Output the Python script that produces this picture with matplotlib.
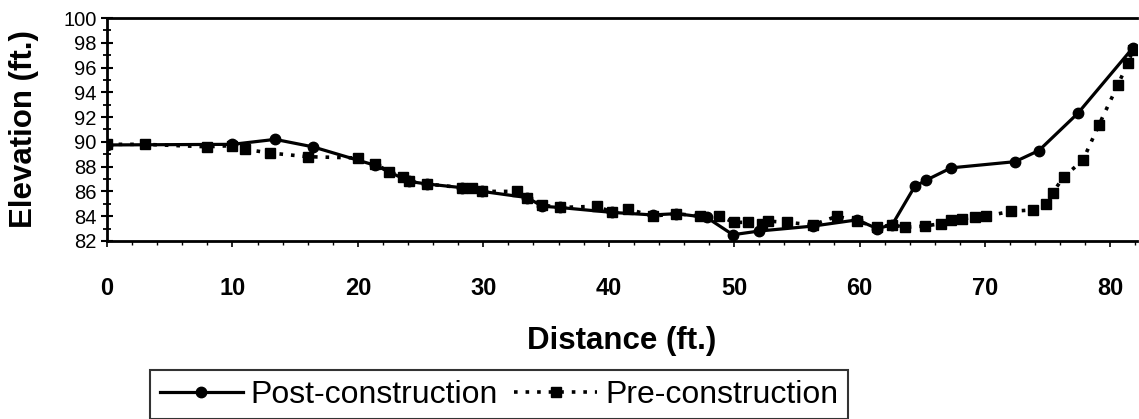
import matplotlib
matplotlib.use('Agg')
import matplotlib.pyplot as plt
from matplotlib.ticker import MultipleLocator

plt.rcParams['font.family'] = ['Liberation Sans', 'DejaVu Sans']

# post-construction survey (distance ft, elevation ft)
post_dist = [0, 10.0, 13.4, 16.4, 21.4, 24.1, 25.5, 28.3, 29.9, 33.5, 34.7, 36.1,
             40.3, 43.5, 45.4, 47.8, 49.9, 52.0, 56.3, 59.8, 61.4, 62.6, 64.4,
             65.3, 67.3, 72.4, 74.3, 77.4, 81.8]
post_elev = [89.75, 89.8, 90.2, 89.6, 88.1, 86.8, 86.6, 86.3, 86.0, 85.5, 84.8, 84.7,
             84.3, 84.1, 84.2, 83.9, 82.5, 82.8, 83.2, 83.7, 83.0, 83.3, 86.4,
             86.9, 87.9, 88.4, 89.3, 92.3, 97.6]

# pre-construction survey
pre_dist = [0, 3.0, 8.0, 10.0, 11.0, 13.0, 16.0, 20.0, 21.4, 22.5, 23.6, 24.1, 25.5,
            28.3, 29.1, 29.9, 32.7, 33.5, 34.7, 36.1, 39.1, 40.3, 41.5, 43.5, 45.4,
            47.3, 48.8, 50.0, 51.1, 52.2, 52.7, 54.2, 56.3, 58.2, 59.8, 61.4, 62.6,
            63.6, 65.2, 66.5, 67.3, 68.2, 69.2, 70.1, 72.1, 73.8, 74.9, 75.4, 76.3,
            77.8, 79.1, 80.6, 81.4, 81.8]
pre_elev = [89.8, 89.8, 89.6, 89.7, 89.4, 89.1, 88.8, 88.7, 88.2, 87.6, 87.2, 86.8, 86.6,
            86.3, 86.3, 86.0, 86.0, 85.5, 84.9, 84.7, 84.8, 84.3, 84.6, 84.0, 84.2,
            84.0, 84.0, 83.5, 83.5, 83.4, 83.6, 83.5, 83.3, 84.0, 83.6, 83.1, 83.3,
            83.1, 83.2, 83.4, 83.7, 83.8, 83.9, 84.0, 84.4, 84.5, 85.0, 85.9, 87.2,
            88.5, 91.4, 94.6, 96.4, 97.4]

fig = plt.figure(figsize=(11.39, 4.19), dpi=100)
ax = fig.add_axes([0.094, 0.425, 0.904, 0.532])

ax.plot(pre_dist, pre_elev, color='black', linestyle=(0, (1, 2.2)), linewidth=2.6,
        marker='s', markersize=6.5, label='Pre-construction')
ax.plot(post_dist, post_elev, color='black', linestyle='-', linewidth=2.3,
        marker='o', markersize=7.5, label='Post-construction')

ax.set_xlim(0, 82.1)
ax.set_ylim(82, 100)
ax.xaxis.set_major_locator(MultipleLocator(10))
ax.xaxis.set_minor_locator(MultipleLocator(2))
ax.yaxis.set_major_locator(MultipleLocator(2))
ax.yaxis.set_minor_locator(MultipleLocator(1))

ax.tick_params(axis='y', which='major', direction='inout', length=9, width=1.5,
               labelsize=14.5, pad=3)
ax.tick_params(axis='y', which='minor', direction='inout', length=6, width=1.3)
ax.tick_params(axis='x', which='major', direction='out', length=4, width=1.2,
               labelsize=17, pad=22)
ax.tick_params(axis='x', which='minor', direction='out', length=3, width=1)
for lab in ax.get_xticklabels():
    lab.set_fontweight('bold')

for side in ['left', 'bottom', 'top']:
    ax.spines[side].set_linewidth(2)
ax.spines['right'].set_visible(False)

ax.set_xlabel('Distance (ft.)', fontsize=22.5, fontweight='bold')
ax.xaxis.set_label_coords(0.5, -0.38)
ax.set_ylabel('Elevation (ft.)', fontsize=22.5, fontweight='bold')
ax.yaxis.set_label_coords(-0.066, 0.5)

handles, labels = ax.get_legend_handles_labels()
leg = fig.legend(handles[::-1], labels[::-1], loc='center', ncol=2,
                 bbox_to_anchor=(0.438, 0.058), fontsize=23, frameon=True,
                 fancybox=False, edgecolor='black', handlelength=2.6,
                 columnspacing=0.5, handletextpad=0.25, borderpad=0.3)
leg.get_frame().set_linewidth(1.5)

fig.savefig('out.png', dpi=100)
